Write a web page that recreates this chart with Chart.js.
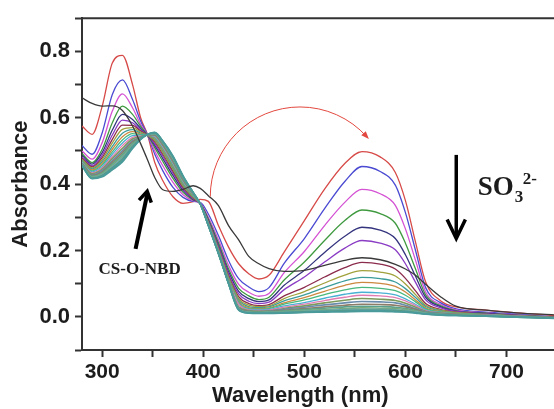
<!DOCTYPE html>
<html lang="en">
<head>
<meta charset="UTF-8">
<title>Absorbance spectra</title>
<script src="https://cdn.jsdelivr.net/npm/chart.js"></script>
<style>
  html, body { margin: 0; padding: 0; background: #fff; }
  canvas { display: block; }
</style>
</head>
<body>
<canvas id="spectra" width="554" height="409"></canvas>
<script>
// wavelength grid (nm)
const wavelengths = [280, 290, 300, 310, 320, 330, 338, 345, 352, 360, 370, 380, 390, 397, 405, 415, 425, 435,
                     445, 455, 465, 480, 500, 520, 540, 557, 575, 590, 600, 610, 620, 635, 650, 680, 710, 747];

// CS-O-NBD alone (black)
const probe = [0.660, 0.643, 0.635, 0.636, 0.622, 0.575, 0.522, 0.472, 0.420, 0.383, 0.378, 0.384, 0.395, 0.387, 0.365, 0.335, 0.275, 0.232,
               0.182, 0.160, 0.145, 0.137, 0.140, 0.155, 0.170, 0.178, 0.172, 0.158, 0.144, 0.125, 0.098, 0.060, 0.032, 0.020, 0.012, 0.006];

// titration with SO3 2-, first trace (red) to last trace (teal)
const s01 = [0.575, 0.550, 0.635, 0.765, 0.788, 0.700, 0.600, 0.547, 0.465, 0.410, 0.362, 0.342, 0.347, 0.354, 0.348, 0.275, 0.210, 0.160,
             0.130, 0.114, 0.125, 0.195, 0.290, 0.385, 0.462, 0.498, 0.482, 0.435, 0.350, 0.225, 0.105, 0.048, 0.030, 0.020, 0.012, 0.004];
const s02 = [0.516, 0.490, 0.555, 0.670, 0.714, 0.655, 0.590, 0.547, 0.490, 0.440, 0.390, 0.360, 0.348, 0.345, 0.310, 0.245, 0.170, 0.115,
             0.090, 0.076, 0.088, 0.161, 0.236, 0.326, 0.408, 0.453, 0.438, 0.397, 0.314, 0.200, 0.088, 0.042, 0.024, 0.014, 0.008, 0.000];
const s03 = [0.500, 0.475, 0.525, 0.620, 0.672, 0.630, 0.580, 0.547, 0.500, 0.455, 0.405, 0.368, 0.350, 0.343, 0.300, 0.232, 0.155, 0.098,
             0.074, 0.062, 0.070, 0.133, 0.197, 0.275, 0.345, 0.384, 0.371, 0.336, 0.265, 0.170, 0.075, 0.037, 0.021, 0.012, 0.006, -0.001];
const s04 = [0.492, 0.465, 0.505, 0.585, 0.635, 0.610, 0.574, 0.547, 0.510, 0.468, 0.417, 0.375, 0.352, 0.342, 0.295, 0.223, 0.144, 0.086,
             0.063, 0.052, 0.059, 0.111, 0.165, 0.230, 0.290, 0.322, 0.311, 0.282, 0.222, 0.144, 0.066, 0.033, 0.019, 0.011, 0.005, -0.001];
const s05 = [0.487, 0.460, 0.495, 0.563, 0.610, 0.595, 0.568, 0.547, 0.517, 0.477, 0.426, 0.381, 0.354, 0.341, 0.291, 0.216, 0.136, 0.077,
             0.055, 0.046, 0.051, 0.095, 0.140, 0.194, 0.243, 0.270, 0.261, 0.236, 0.187, 0.122, 0.059, 0.030, 0.017, 0.010, 0.004, -0.002];
const s06 = [0.482, 0.455, 0.487, 0.548, 0.593, 0.585, 0.563, 0.547, 0.522, 0.484, 0.433, 0.386, 0.356, 0.340, 0.288, 0.211, 0.129, 0.069,
             0.047, 0.040, 0.044, 0.082, 0.120, 0.165, 0.207, 0.230, 0.222, 0.202, 0.160, 0.104, 0.051, 0.027, 0.016, 0.009, 0.004, -0.002];
const s07 = [0.478, 0.452, 0.480, 0.535, 0.578, 0.577, 0.560, 0.547, 0.527, 0.490, 0.439, 0.390, 0.358, 0.340, 0.286, 0.207, 0.123, 0.061,
             0.040, 0.034, 0.037, 0.063, 0.089, 0.120, 0.148, 0.164, 0.159, 0.144, 0.116, 0.078, 0.040, 0.022, 0.014, 0.008, 0.004, -0.002];
const s08 = [0.475, 0.449, 0.474, 0.524, 0.565, 0.570, 0.557, 0.547, 0.531, 0.495, 0.444, 0.394, 0.360, 0.340, 0.284, 0.204, 0.119, 0.055,
             0.035, 0.031, 0.033, 0.055, 0.076, 0.102, 0.126, 0.139, 0.135, 0.123, 0.099, 0.067, 0.035, 0.020, 0.013, 0.007, 0.003, -0.002];
const s09 = [0.472, 0.446, 0.468, 0.514, 0.553, 0.564, 0.554, 0.547, 0.535, 0.500, 0.449, 0.398, 0.362, 0.340, 0.283, 0.202, 0.116, 0.050,
             0.031, 0.028, 0.030, 0.048, 0.066, 0.088, 0.108, 0.119, 0.115, 0.105, 0.085, 0.058, 0.031, 0.018, 0.012, 0.007, 0.003, -0.002];
const s10 = [0.470, 0.443, 0.463, 0.505, 0.543, 0.558, 0.551, 0.548, 0.538, 0.504, 0.453, 0.401, 0.364, 0.340, 0.282, 0.200, 0.113, 0.046,
             0.028, 0.025, 0.027, 0.042, 0.058, 0.077, 0.095, 0.104, 0.101, 0.092, 0.075, 0.051, 0.027, 0.016, 0.011, 0.006, 0.003, -0.003];
const s11 = [0.468, 0.440, 0.458, 0.497, 0.533, 0.552, 0.549, 0.548, 0.541, 0.508, 0.457, 0.404, 0.365, 0.340, 0.281, 0.198, 0.111, 0.043,
             0.025, 0.023, 0.025, 0.038, 0.051, 0.067, 0.081, 0.089, 0.086, 0.079, 0.065, 0.045, 0.024, 0.015, 0.010, 0.006, 0.002, -0.003];
const s12 = [0.466, 0.437, 0.453, 0.490, 0.524, 0.546, 0.547, 0.548, 0.543, 0.511, 0.461, 0.407, 0.367, 0.340, 0.280, 0.197, 0.109, 0.040,
             0.023, 0.021, 0.022, 0.033, 0.043, 0.056, 0.068, 0.074, 0.072, 0.066, 0.054, 0.038, 0.021, 0.013, 0.009, 0.005, 0.002, -0.003];
const s13 = [0.464, 0.434, 0.449, 0.483, 0.516, 0.541, 0.545, 0.548, 0.545, 0.514, 0.464, 0.410, 0.368, 0.340, 0.279, 0.196, 0.107, 0.038,
             0.021, 0.019, 0.020, 0.029, 0.038, 0.049, 0.059, 0.065, 0.063, 0.058, 0.048, 0.034, 0.019, 0.012, 0.008, 0.005, 0.002, -0.003];
const s14 = [0.463, 0.431, 0.445, 0.477, 0.508, 0.536, 0.543, 0.549, 0.547, 0.517, 0.467, 0.412, 0.369, 0.340, 0.278, 0.195, 0.106, 0.030,
             0.019, 0.017, 0.018, 0.025, 0.033, 0.042, 0.050, 0.055, 0.053, 0.049, 0.041, 0.029, 0.017, 0.011, 0.008, 0.004, 0.001, -0.003];
const s15 = [0.462, 0.428, 0.441, 0.471, 0.501, 0.531, 0.541, 0.549, 0.549, 0.519, 0.470, 0.414, 0.370, 0.340, 0.278, 0.194, 0.105, 0.028,
             0.017, 0.016, 0.017, 0.023, 0.029, 0.036, 0.042, 0.046, 0.045, 0.042, 0.035, 0.025, 0.015, 0.010, 0.007, 0.004, 0.001, -0.003];
const s16 = [0.461, 0.426, 0.437, 0.466, 0.495, 0.527, 0.539, 0.549, 0.550, 0.521, 0.473, 0.416, 0.371, 0.340, 0.277, 0.193, 0.104, 0.026,
             0.016, 0.015, 0.016, 0.020, 0.025, 0.030, 0.035, 0.038, 0.037, 0.035, 0.030, 0.022, 0.013, 0.009, 0.007, 0.004, 0.001, -0.003];
const s17 = [0.460, 0.424, 0.434, 0.461, 0.489, 0.523, 0.538, 0.549, 0.551, 0.523, 0.475, 0.418, 0.372, 0.340, 0.277, 0.193, 0.103, 0.025,
             0.015, 0.014, 0.015, 0.018, 0.022, 0.026, 0.030, 0.032, 0.031, 0.029, 0.025, 0.019, 0.012, 0.008, 0.006, 0.003, 0.000, -0.003];
const s18 = [0.459, 0.422, 0.431, 0.457, 0.484, 0.519, 0.537, 0.550, 0.552, 0.525, 0.477, 0.420, 0.373, 0.340, 0.276, 0.192, 0.102, 0.024,
             0.014, 0.013, 0.014, 0.016, 0.019, 0.022, 0.025, 0.027, 0.026, 0.025, 0.022, 0.017, 0.011, 0.007, 0.006, 0.003, 0.000, -0.004];
const s19 = [0.458, 0.420, 0.428, 0.453, 0.479, 0.516, 0.536, 0.550, 0.553, 0.527, 0.479, 0.421, 0.374, 0.340, 0.276, 0.192, 0.101, 0.023,
             0.013, 0.012, 0.013, 0.014, 0.017, 0.019, 0.022, 0.023, 0.023, 0.021, 0.019, 0.015, 0.010, 0.007, 0.005, 0.003, 0.000, -0.004];
const s20 = [0.457, 0.418, 0.426, 0.449, 0.475, 0.513, 0.536, 0.550, 0.554, 0.528, 0.481, 0.422, 0.374, 0.340, 0.275, 0.191, 0.101, 0.022,
             0.012, 0.011, 0.012, 0.013, 0.015, 0.017, 0.019, 0.020, 0.020, 0.019, 0.017, 0.013, 0.009, 0.006, 0.005, 0.002, -0.001, -0.004];
const s21 = [0.456, 0.417, 0.424, 0.446, 0.471, 0.510, 0.535, 0.550, 0.555, 0.529, 0.483, 0.424, 0.375, 0.340, 0.275, 0.191, 0.100, 0.021,
             0.012, 0.011, 0.011, 0.012, 0.014, 0.016, 0.017, 0.018, 0.018, 0.017, 0.015, 0.012, 0.009, 0.006, 0.004, 0.002, -0.001, -0.004];
const s22 = [0.455, 0.416, 0.422, 0.443, 0.467, 0.507, 0.535, 0.550, 0.556, 0.530, 0.485, 0.425, 0.375, 0.340, 0.275, 0.190, 0.100, 0.020,
             0.011, 0.010, 0.010, 0.011, 0.013, 0.014, 0.015, 0.016, 0.016, 0.015, 0.014, 0.011, 0.008, 0.005, 0.004, 0.002, -0.001, -0.005];

const titration = [s01, s02, s03, s04, s05, s06, s07, s08, s09, s10, s11, s12, s13, s14, s15, s16, s17, s18, s19, s20, s21, s22];
const traceColors = ['#d64a48', '#4a4ad2', '#d452d4', '#3f9a3f', '#34347e', '#8a3cc4', '#8c2c4c', '#a0a03c',
                     '#3c9c9c', '#cc8840', '#48b87c', '#48b0d2', '#e07cb2', '#7c9a5c', '#6a8cac', '#8c7c68',
                     '#5aa08c', '#7aaa7a', '#68a8b0', '#5a9a7a', '#4c9ca0', '#4a9a9a'];

// annotation placement, in data units
const notes = {
  probeLabel: { x: 337, y: 0.128, text: 'CS-O-NBD' },
  probeArrow: { x0: 333, y0: 0.205, x1: 344.5, y1: 0.378 },
  dropArrow: { x: 650.3, y0: 0.488, y1: 0.236 },
  anion: { x: 671.5, y: 0.368 },
  shiftArc: { cx: 495.7, cy: 0.362, r: 88.8, end: 2 * Math.PI - 0.73 },
  xTitle: { x: 496, text: 'Wavelength (nm)' }
};

const sans = "'Liberation Sans', Arial, sans-serif";
const serif = "'Liberation Serif', 'Times New Roman', serif";
const ink = '#1c1c1c';

function toPoints(arr) {
  return wavelengths.map((w, i) => ({ x: w, y: arr[i] }));
}

const datasets = [{
  data: toPoints(probe), borderColor: '#3a3a3a', borderWidth: 1.3, order: 0
}].concat(titration.map((arr, i) => ({
  data: toPoints(arr),
  borderColor: traceColors[i],
  borderWidth: i >= 13 ? 1.6 : 1.3,
  order: titration.length - i
})));

function chevron(ctx, tx, ty, ang, len, spread) {
  ctx.beginPath();
  ctx.moveTo(tx - len * Math.cos(ang - spread), ty - len * Math.sin(ang - spread));
  ctx.lineTo(tx, ty);
  ctx.lineTo(tx - len * Math.cos(ang + spread), ty - len * Math.sin(ang + spread));
  ctx.stroke();
}

const decorations = {
  id: 'decorations',
  afterDraw(chart) {
    const { ctx, chartArea: a, scales: { x, y } } = chart;
    ctx.save();

    // top frame line
    ctx.strokeStyle = '#333';
    ctx.lineWidth = 2;
    ctx.beginPath();
    ctx.moveTo(a.left - 1, a.top);
    ctx.lineTo(a.right, a.top);
    ctx.stroke();

    // red arc showing the band shift
    const arc = notes.shiftArc;
    const cx = x.getPixelForValue(arc.cx), cy = y.getPixelForValue(arc.cy);
    const R = x.getPixelForValue(arc.cx + arc.r) - cx;
    ctx.strokeStyle = '#e2483f';
    ctx.fillStyle = '#e2483f';
    ctx.lineWidth = 1;
    ctx.beginPath();
    ctx.arc(cx, cy, R, Math.PI, arc.end, false);
    ctx.stroke();
    const ex = cx + R * Math.cos(arc.end), ey = cy + R * Math.sin(arc.end);
    const dir = Math.atan2(Math.cos(arc.end), -Math.sin(arc.end));
    ctx.beginPath();
    ctx.moveTo(ex + 3 * Math.cos(dir), ey + 3 * Math.sin(dir));
    ctx.lineTo(ex - 5 * Math.cos(dir) - 3 * Math.sin(dir), ey - 5 * Math.sin(dir) + 3 * Math.cos(dir));
    ctx.lineTo(ex - 5 * Math.cos(dir) + 3 * Math.sin(dir), ey - 5 * Math.sin(dir) - 3 * Math.cos(dir));
    ctx.closePath();
    ctx.fill();

    // arrow pointing at the probe trace
    const pa = notes.probeArrow;
    const px0 = x.getPixelForValue(pa.x0), py0 = y.getPixelForValue(pa.y0);
    const px1 = x.getPixelForValue(pa.x1), py1 = y.getPixelForValue(pa.y1);
    ctx.strokeStyle = '#000';
    ctx.lineWidth = 4;
    ctx.lineCap = 'butt';
    ctx.beginPath();
    ctx.moveTo(px0, py0);
    ctx.lineTo(px1, py1 + 3);
    ctx.stroke();
    ctx.lineWidth = 3.5;
    chevron(ctx, px1, py1, Math.atan2(py1 - py0, px1 - px0), 12, 0.55);

    // downward arrow for increasing sulfite
    const da = notes.dropArrow;
    const dx = x.getPixelForValue(da.x), dy0 = y.getPixelForValue(da.y0), dy1 = y.getPixelForValue(da.y1);
    ctx.lineWidth = 3.5;
    ctx.beginPath();
    ctx.moveTo(dx, dy0);
    ctx.lineTo(dx, dy1 - 2);
    ctx.stroke();
    chevron(ctx, dx, dy1, Math.PI / 2, 21, 0.45);

    // texts
    ctx.fillStyle = ink;
    ctx.textBaseline = 'alphabetic';
    ctx.textAlign = 'center';
    ctx.font = 'bold 17px ' + serif;
    ctx.fillText(notes.probeLabel.text, x.getPixelForValue(notes.probeLabel.x), y.getPixelForValue(notes.probeLabel.y));

    ctx.textAlign = 'left';
    let sx = x.getPixelForValue(notes.anion.x);
    const sy = y.getPixelForValue(notes.anion.y);
    ctx.font = 'bold 27px ' + serif;
    ctx.fillText('SO', sx, sy);
    sx += ctx.measureText('SO').width;
    ctx.font = 'bold 17px ' + serif;
    ctx.fillText('3', sx + 1, sy + 7);
    ctx.fillText('2-', sx + 9, sy - 11);

    ctx.textAlign = 'center';
    ctx.textBaseline = 'middle';
    ctx.font = 'bold 22px ' + sans;
    ctx.fillText(notes.xTitle.text, x.getPixelForValue(notes.xTitle.x), a.bottom + 46);

    ctx.restore();
  }
};

new Chart(document.getElementById('spectra'), {
  type: 'line',
  data: { datasets: datasets },
  options: {
    responsive: false,
    animation: false,
    events: [],
    layout: { padding: { top: 14, right: 0, left: 0, bottom: 0 } },
    plugins: { legend: { display: false }, tooltip: { enabled: false } },
    elements: {
      point: { radius: 0 },
      line: { cubicInterpolationMode: 'monotone', borderJoinStyle: 'round' }
    },
    scales: {
      x: {
        type: 'linear',
        min: 280,
        max: 747,
        afterFit: s => { s.height = 59; },
        border: { display: true, color: '#333', width: 2 },
        grid: { drawOnChartArea: false, drawTicks: true, tickLength: 7, tickColor: '#333', tickWidth: 2 },
        ticks: {
          stepSize: 50,
          includeBounds: false,
          autoSkip: false,
          maxRotation: 0,
          color: ink,
          font: { family: sans, size: 21, weight: 'bold' },
          padding: 3,
          callback: v => (v % 100 === 0 ? String(v) : '')
        }
      },
      y: {
        min: -0.1,
        max: 0.9,
        afterFit: s => { s.width = 82; },
        border: { display: true, color: '#333', width: 2 },
        grid: { drawOnChartArea: false, drawTicks: true, tickLength: 7, tickColor: '#333', tickWidth: 2 },
        ticks: {
          stepSize: 0.1,
          autoSkip: false,
          color: ink,
          font: { family: sans, size: 22, weight: 'bold' },
          padding: 5,
          callback: v => {
            const k = Math.round(v * 10);
            return (k >= 0 && k % 2 === 0) ? (k / 10).toFixed(1) : '';
          }
        },
        title: {
          display: true,
          text: 'Absorbance',
          color: ink,
          font: { family: sans, size: 22, weight: 'bold' },
          padding: { top: 8, bottom: 0 }
        }
      }
    }
  },
  plugins: [decorations]
});
</script>
</body>
</html>
